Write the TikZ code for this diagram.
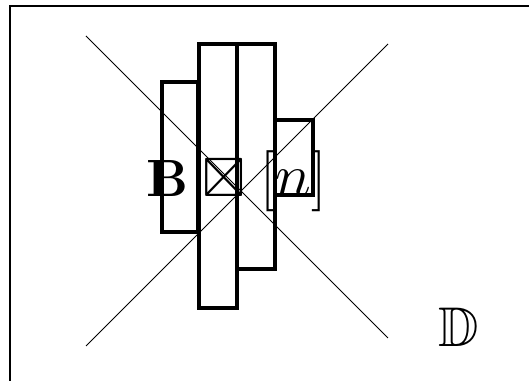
\documentclass[tikz,border=0pt]{standalone}
\usepackage{amsmath,amssymb}
\usetikzlibrary{positioning}

\begin{document}
\begin{tikzpicture}[
        x=0.02cm, y=-0.02cm,
        glyph/.style={font=\Huge, inner sep=0pt, anchor=base west, scale=#1, transform shape},
        bar/.style={draw, line width=2.3pt},
        diag/.style={draw, line width=0.5pt},
        frame/.style={draw, line width=0.7pt}
    ]
        \useasboundingbox (0,0) rectangle (529,381);
        \draw[frame] (10,381) -- (10,6) -- (529,6);

        % the four bars
        \draw[bar] (162,82) rectangle (198,232);
        \draw[bar] (199,44) rectangle (237,308);
        \draw[bar] (237,44) rectangle (275,269);
        \draw[bar] (275,120) rectangle (313,195);

        % crossing lines
        \coordinate (nw) at (86,36);
        \coordinate (se) at (388,338);
        \coordinate (sw) at (86,346);
        \coordinate (ne) at (388,44);
        \draw[diag] (nw) -- (se);
        \draw[diag] (sw) -- (ne);

        % glyphs
        \node[glyph=1.2] (bold) at (146,197) {$\mathbf{B}$};
        \node[glyph=1.27] (box) at (202,197) {$\boxtimes$};
        \node[glyph=1.4] (range) at (260,197) {$[n]$};
        \node[glyph=1.28] (dbb) at (438,347) {$\mathbb{D}$};
    \end{tikzpicture}
\end{document}
